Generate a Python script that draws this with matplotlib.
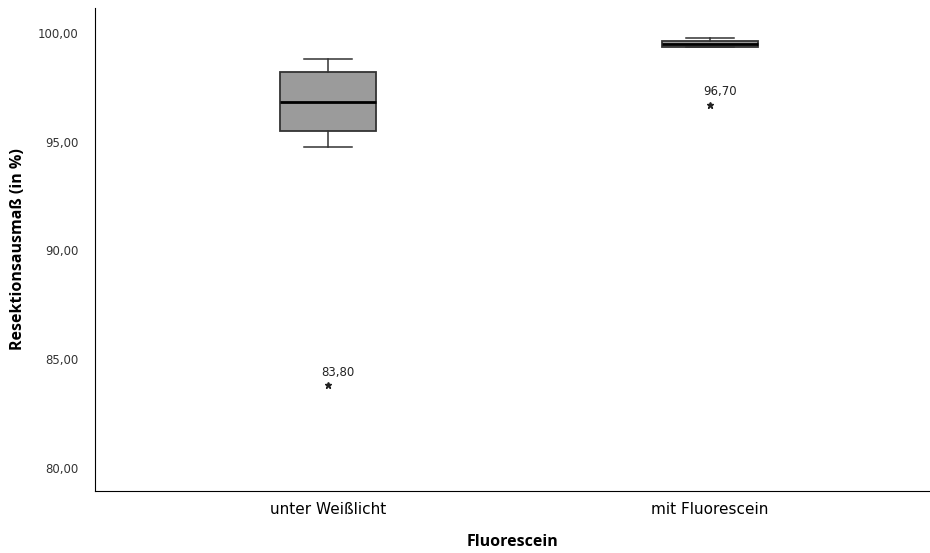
import matplotlib
matplotlib.use('Agg')
import matplotlib.pyplot as plt

# box statistics
groups = ['unter Weißlicht', 'mit Fluorescein']
whislo = [94.75, 99.36]
q1 = [95.5, 99.36]
med = [96.8, 99.5]
q3 = [98.2, 99.64]
whishi = [98.8, 99.78]
outliers = [[83.8], [96.7]]
yticks = [80, 85, 90, 95, 100]

stats = []
for i in range(len(groups)):
    stats.append(dict(label=groups[i], whislo=whislo[i], q1=q1[i], med=med[i],
                      q3=q3[i], whishi=whishi[i], fliers=[]))

fig = plt.figure(figsize=(9.3, 5.53), dpi=100)
ax = fig.add_axes([0.102, 0.112, 0.898, 0.874])

ax.bxp(stats, positions=[1, 2], widths=0.25, patch_artist=True, showfliers=False,
       boxprops=dict(facecolor='#9b9b9b', edgecolor='#333333', linewidth=1.3),
       medianprops=dict(color='black', linewidth=2),
       whiskerprops=dict(color='#333333', linewidth=1.1),
       capprops=dict(color='#333333', linewidth=1.1),
       capwidths=0.125)

for i, vals in enumerate(outliers):
    for v in vals:
        ax.plot(i + 1, v, marker='*', color='#222222', markersize=4.5, linestyle='none')
        ax.annotate(('%.2f' % v).replace('.', ','), (i + 1, v),
                    xytext=(-5, 7), textcoords='offset points',
                    fontsize=8.5, color='#222222')

ax.set_xlim(0.39, 2.576)
ax.set_ylim(78.95, 101.15)
ax.set_yticks(yticks)
ax.set_yticklabels(['%d,00' % t for t in yticks], fontsize=8.5, color='#333333')
ax.tick_params(axis='y', length=0, pad=12)
ax.tick_params(axis='x', length=0, labelsize=11, pad=8)
ax.spines['top'].set_visible(False)
ax.spines['right'].set_visible(False)
ax.set_ylabel('Resektionsausmaß (in %)', fontsize=11.5, fontweight='bold',
              family='Open Sans', labelpad=8)
ax.set_xlabel('Fluorescein', fontsize=11.5, fontweight='bold',
              family='Open Sans', labelpad=12)

fig.savefig('out.png')
